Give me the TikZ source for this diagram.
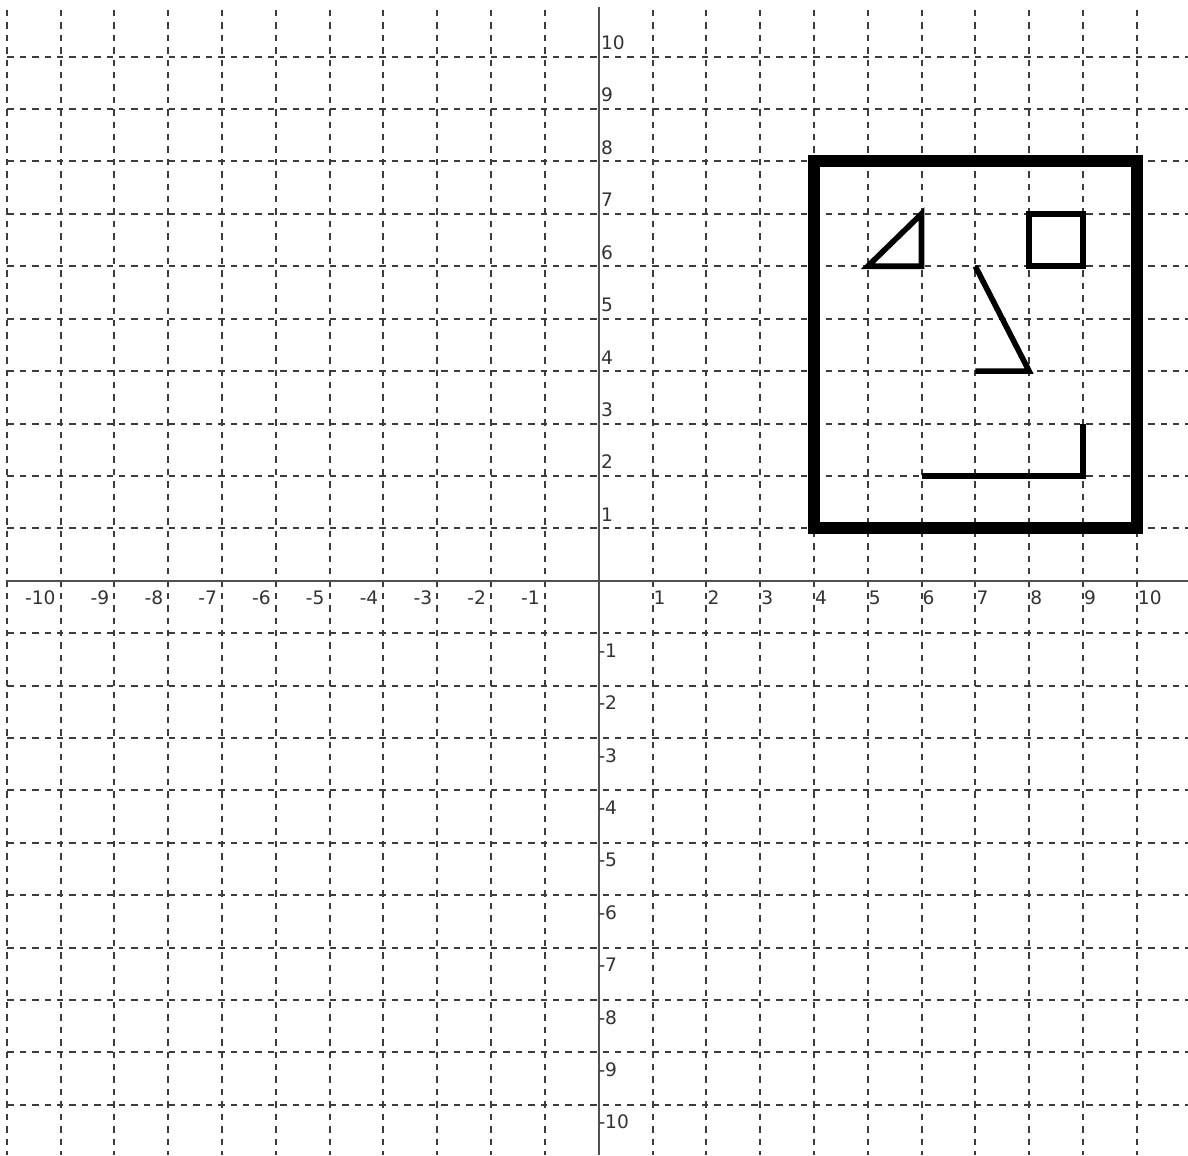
\documentclass[tikz,border=0pt]{standalone}
\usepackage{fontspec}
\setmainfont{DejaVu Sans}
\definecolor{gridc}{HTML}{3C3C3C}
\definecolor{axisc}{HTML}{505050}
\begin{document}
\begin{tikzpicture}[x=26.9pt,y=26.2pt,
  gridline/.style={gridc,line width=1pt,dash pattern=on 3.2pt off 3pt},
  axisline/.style={axisc,line width=1pt},
  frame/.style={black,line width=6pt,line join=miter},
  feature/.style={black,line width=2.8pt,line join=miter},
  lbl/.style={inner sep=0pt,font=\fontsize{9.3pt}{10pt}\selectfont,text=black!80}]
\useasboundingbox (-11.128,-10.960) rectangle (10.953,11.082);
\fill[white] (-11.128,-10.960) rectangle (10.953,11.082);
% grid
\foreach \i in {-11,...,10} \draw[gridline] (\i,10.89) -- (\i,-10.96);
\foreach \j in {-10,...,10} \draw[gridline] (-10.99,\j) -- (10.953,\j);
% axes
\draw[axisline] (-11.0,0) -- (10.953,0);
\draw[axisline] (0,10.95) -- (0,-10.96);
% x labels
\foreach \n in {1,...,10} \node[lbl,anchor=north west,xshift=0.4pt,yshift=-4.7pt] (xp\n) at (\n,0) {\n};
\foreach \n in {1,...,10} \node[lbl,anchor=north east,xshift=-2.4pt,yshift=-4.7pt] (xn\n) at (-\n,0) {-\n};
% y labels
\foreach \n in {1,...,10} \node[lbl,anchor=south west,xshift=1pt,yshift=3.3pt] (yp\n) at (0,\n) {\n};
\foreach \n in {1,...,10} \node[lbl,anchor=north west,xshift=-0.3pt,yshift=-5pt] (yn\n) at (0,-\n) {-\n};
% face
\draw[frame] (4,1) rectangle (10,8);
\draw[feature] (5,6) -- (6,6) -- (6,7) -- cycle;
\draw[feature] (8,6) rectangle (9,7);
\draw[feature] (7,6) -- (8,4) -- (7,4);
\draw[feature] (6,2) -- (9,2) -- (9,3);
\end{tikzpicture}
\end{document}
